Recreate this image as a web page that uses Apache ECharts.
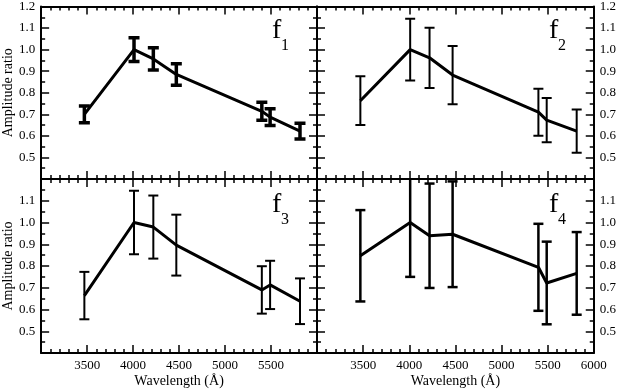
<!DOCTYPE html>
<html>
<head>
<meta charset="utf-8">
<script src="https://cdn.jsdelivr.net/npm/echarts@6/dist/echarts.min.js"></script>
<style>
html, body { margin: 0; padding: 0; background: #fff; }
#chart { width: 619px; height: 390px; }
</style>
</head>
<body>
<div id="chart"></div>
<script>
// wavelengths of the seven filters (Angstrom)
var wavelengths = [3470, 4010, 4220, 4470, 5400, 5490, 5815];

// amplitude ratios and their errors, one pair per frequency
var f1Ratio = [0.700, 1.000, 0.957, 0.885, 0.714, 0.687, 0.622];
var f1Err   = [0.039, 0.055, 0.052, 0.050, 0.042, 0.039, 0.037];
var f2Ratio = [0.763, 1.000, 0.962, 0.882, 0.710, 0.673, 0.622];
var f2Err   = [0.113, 0.143, 0.140, 0.135, 0.109, 0.103, 0.100];
var f3Ratio = [0.664, 1.000, 0.979, 0.896, 0.690, 0.713, 0.638];
var f3Err   = [0.109, 0.146, 0.145, 0.140, 0.109, 0.111, 0.105];
var f4Ratio = [0.847, 1.000, 0.939, 0.946, 0.794, 0.722, 0.766];
var f4Err   = [0.210, 0.250, 0.240, 0.243, 0.200, 0.190, 0.190];

// axis ranges: [min, max, step]
var xRange = [3000, 6000, 500];
var yRange = [0.4, 1.2, 0.1];

var font = "'Liberation Serif', 'DejaVu Serif', serif";

var panels = [
	{ sub: '1', ratio: f1Ratio, err: f1Err, left: 40, top: 5, width: 277, ySide: 'left', xLabels: false, barWidth: 3.5, cap: 5.5 },
	{ sub: '2', ratio: f2Ratio, err: f2Err, left: 317, top: 5, width: 278, ySide: 'right', xLabels: false, barWidth: 2, cap: 5 },
	{ sub: '3', ratio: f3Ratio, err: f3Err, left: 40, top: 179, width: 277, ySide: 'left', xLabels: true, barWidth: 2, cap: 5 },
	{ sub: '4', ratio: f4Ratio, err: f4Err, left: 317, top: 179, width: 278, ySide: 'right', xLabels: true, barWidth: 2.5, cap: 5 }
];

function tickStyle(len) {
	return { inside: true, length: len, lineStyle: { color: '#000', width: 1.5 } };
}

function makeX(i, p, onTop) {
	return {
		type: 'value', gridIndex: i, position: onTop ? 'top' : 'bottom',
		min: xRange[0], max: xRange[1], interval: xRange[2],
		axisLine: { show: true, onZero: false, lineStyle: { color: '#000', width: 2 } },
		axisTick: tickStyle(8),
		minorTick: { show: true, splitNumber: 5, length: 4, lineStyle: { color: '#000', width: 1.5 } },
		splitLine: { show: false },
		name: (!onTop && p.xLabels) ? 'Wavelength (\u00c5)' : '',
		nameLocation: 'middle', nameGap: 21,
		nameTextStyle: { fontFamily: font, fontSize: 14, color: '#000' },
		axisLabel: {
			show: !onTop && p.xLabels, margin: 6,
			fontFamily: font, fontSize: 13, color: '#000',
			formatter: function (v) {
				if (v === xRange[0]) return '';
				if (v === xRange[1] && p.ySide === 'left') return '';
				return String(v);
			}
		}
	};
}

function makeY(i, p, main) {
	var side = main ? p.ySide : (p.ySide === 'left' ? 'right' : 'left');
	var bottomPanel = p.top > 100;
	return {
		type: 'value', gridIndex: i, position: side,
		min: yRange[0], max: yRange[1], interval: yRange[2],
		axisLine: { show: true, onZero: false, lineStyle: { color: '#000', width: 2 } },
		axisTick: tickStyle(8),
		minorTick: { show: true, splitNumber: 2, length: 4, lineStyle: { color: '#000', width: 1.5 } },
		splitLine: { show: false },
		name: (main && side === 'left') ? 'Amplitude ratio' : '',
		nameLocation: 'middle', nameGap: 22, nameRotate: 90,
		nameTextStyle: { fontFamily: font, fontSize: 14, color: '#000' },
		axisLabel: {
			show: main, margin: 6,
			fontFamily: font, fontSize: 13, color: '#000',
			formatter: function (v) {
				var r = Math.round(v * 10) / 10;
				if (r <= yRange[0] + 0.001) return '';
				if (bottomPanel && r >= yRange[1] - 0.001) return '';
				return r.toFixed(1);
			}
		}
	};
}

function errorBars(lineWidth, cap) {
	return function (params, api) {
		var x = api.value(0), y = api.value(1), e = api.value(2);
		var hi = api.coord([x, y + e]);
		var lo = api.coord([x, y - e]);
		var style = { stroke: '#000', lineWidth: lineWidth, fill: null };
		return {
			type: 'group',
			children: [
				{ type: 'line', shape: { x1: hi[0], y1: hi[1], x2: lo[0], y2: lo[1] }, style: style },
				{ type: 'line', shape: { x1: hi[0] - cap, y1: hi[1], x2: hi[0] + cap, y2: hi[1] }, style: style },
				{ type: 'line', shape: { x1: lo[0] - cap, y1: lo[1], x2: lo[0] + cap, y2: lo[1] }, style: style }
			]
		};
	};
}

var grids = [], xAxes = [], yAxes = [], series = [], graphics = [];

panels.forEach(function (p, i) {
	grids.push({ left: p.left, top: p.top, width: p.width, height: 174, containLabel: false });
	xAxes[i] = makeX(i, p, false);
	xAxes[i + 4] = makeX(i, p, true);
	yAxes[i] = makeY(i, p, true);
	yAxes[i + 4] = makeY(i, p, false);

	var lineData = wavelengths.map(function (w, k) { return [w, p.ratio[k]]; });
	var barData = wavelengths.map(function (w, k) { return [w, p.ratio[k], p.err[k]]; });

	series.push({
		type: 'custom', xAxisIndex: i, yAxisIndex: i, clip: true,
		renderItem: errorBars(p.barWidth, p.cap),
		data: barData, silent: true, z: 2
	});
	series.push({
		type: 'line', xAxisIndex: i, yAxisIndex: i,
		data: lineData, symbol: 'none', silent: true, z: 3,
		lineStyle: { color: '#000', width: 3 }
	});

	// panel label: f with a subscript
	graphics.push({
		type: 'text', left: p.left + 232, top: p.top + 12,
		style: { text: 'f', fontFamily: font, fontSize: 28, fill: '#000' }
	});
	graphics.push({
		type: 'text', left: p.left + 241, top: p.top + 33,
		style: { text: p.sub, fontFamily: font, fontSize: 16, fill: '#000' }
	});
});

var chart = echarts.init(document.getElementById('chart'));
chart.setOption({
	backgroundColor: '#fff',
	animation: false,
	grid: grids,
	xAxis: xAxes,
	yAxis: yAxes,
	series: series,
	graphic: graphics
});
</script>
</body>
</html>
